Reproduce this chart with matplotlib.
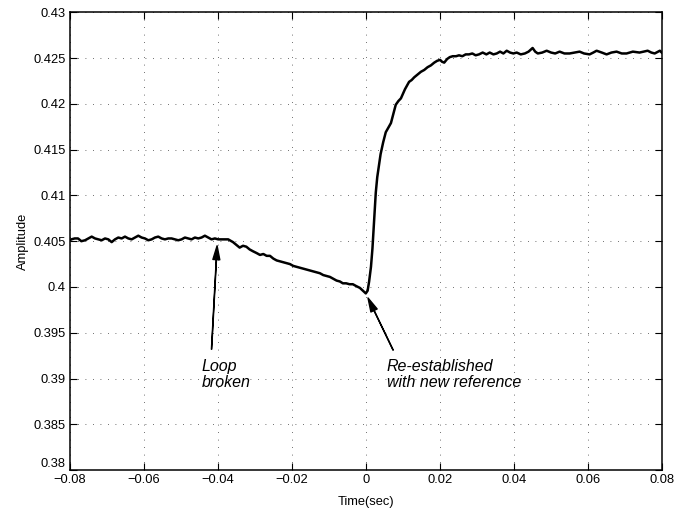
import numpy as np
import matplotlib
matplotlib.use('Agg')
import matplotlib.pyplot as plt

# Datos (tiempo en s, amplitud)
t_lazo = [-0.0800, -0.0796, -0.0787, -0.0778, -0.0769, -0.0759, -0.0750, -0.0741, -0.0732, -0.0723,
          -0.0714, -0.0705, -0.0696, -0.0687, -0.0678, -0.0669, -0.0660, -0.0651, -0.0642, -0.0633,
          -0.0624, -0.0615, -0.0606, -0.0597, -0.0588, -0.0579, -0.0570, -0.0561, -0.0552, -0.0543,
          -0.0534, -0.0525, -0.0516, -0.0507, -0.0498, -0.0489, -0.0480, -0.0471, -0.0462, -0.0453,
          -0.0444, -0.0435, -0.0426, -0.0417, -0.0408, -0.0399, -0.0390, -0.0381, -0.0372]
a_lazo = [0.4051, 0.4052, 0.4053, 0.4053, 0.4050, 0.4051, 0.4053, 0.4055, 0.4053, 0.4052,
          0.4051, 0.4053, 0.4052, 0.4049, 0.4052, 0.4054, 0.4053, 0.4055, 0.4053, 0.4052,
          0.4054, 0.4056, 0.4054, 0.4053, 0.4051, 0.4052, 0.4054, 0.4055, 0.4053, 0.4052,
          0.4053, 0.4053, 0.4052, 0.4051, 0.4052, 0.4054, 0.4053, 0.4052, 0.4054, 0.4053,
          0.4054, 0.4056, 0.4054, 0.4052, 0.4053, 0.4052, 0.4052, 0.4052, 0.4052]

# Lazo abierto: deriva hacia abajo
t_deriva = [-0.0359, -0.0350, -0.0341, -0.0332, -0.0323, -0.0314, -0.0305, -0.0295, -0.0286, -0.0277,
            -0.0268, -0.0259, -0.0250, -0.0241, -0.0232, -0.0223, -0.0214, -0.0205, -0.0196, -0.0187,
            -0.0178, -0.0169, -0.0160, -0.0151, -0.0142, -0.0133, -0.0124, -0.0115, -0.0106, -0.0097,
            -0.0088, -0.0079, -0.0070, -0.0062, -0.0053, -0.0044, -0.0035, -0.0026, -0.0016, -0.0008,
            0.0000]
a_deriva = [0.4049, 0.4046, 0.4043, 0.4045, 0.4044, 0.4041, 0.4039, 0.4037, 0.4035, 0.4036,
            0.4034, 0.4034, 0.4031, 0.4029, 0.4028, 0.4027, 0.4026, 0.4025, 0.4023, 0.4022,
            0.4021, 0.4020, 0.4019, 0.4018, 0.4017, 0.4016, 0.4015, 0.4013, 0.4012, 0.4011,
            0.4009, 0.4007, 0.4006, 0.4004, 0.4004, 0.4003, 0.4003, 0.4001, 0.3999, 0.3996,
            0.3993]

# Subida con la nueva referencia
t_subida = [0.0005, 0.0009, 0.0014, 0.0018, 0.0021, 0.0024, 0.0027, 0.0031, 0.0036, 0.0040,
            0.0047, 0.0054, 0.0061, 0.0068, 0.0075, 0.0081, 0.0088, 0.0095, 0.0106, 0.0117,
            0.0124, 0.0131, 0.0140, 0.0149, 0.0158, 0.0167, 0.0176, 0.0185, 0.0193, 0.0201,
            0.0206, 0.0212, 0.0220, 0.0227, 0.0235]
a_subida = [0.3996, 0.4006, 0.4022, 0.4042, 0.4063, 0.4085, 0.4103, 0.4120, 0.4134, 0.4145,
            0.4158, 0.4169, 0.4174, 0.4179, 0.4190, 0.4199, 0.4203, 0.4206, 0.4216, 0.4224,
            0.4226, 0.4229, 0.4232, 0.4235, 0.4237, 0.4240, 0.4242, 0.4245, 0.4247, 0.4248,
            0.4246, 0.4245, 0.4249, 0.4251, 0.4252]

# Regimen final
t_final = [0.0244, 0.0252, 0.0261, 0.0270, 0.0279, 0.0288, 0.0297, 0.0306, 0.0316, 0.0326,
           0.0335, 0.0345, 0.0354, 0.0363, 0.0372, 0.0381, 0.0390, 0.0399, 0.0408, 0.0419,
           0.0430, 0.0440, 0.0451, 0.0458, 0.0465, 0.0477, 0.0489, 0.0501, 0.0512, 0.0524,
           0.0537, 0.0551, 0.0565, 0.0578, 0.0590, 0.0605, 0.0615, 0.0624, 0.0638, 0.0651,
           0.0664, 0.0678, 0.0692, 0.0705, 0.0722, 0.0740, 0.0751, 0.0762, 0.0772, 0.0781,
           0.0790, 0.0795, 0.0800]
a_final = [0.4252, 0.4253, 0.4252, 0.4254, 0.4254, 0.4255, 0.4253, 0.4254, 0.4256, 0.4254,
           0.4256, 0.4254, 0.4255, 0.4257, 0.4255, 0.4258, 0.4256, 0.4255, 0.4256, 0.4254,
           0.4255, 0.4257, 0.4261, 0.4257, 0.4255, 0.4256, 0.4258, 0.4256, 0.4255, 0.4257,
           0.4255, 0.4255, 0.4256, 0.4257, 0.4255, 0.4254, 0.4256, 0.4258, 0.4256, 0.4254,
           0.4256, 0.4257, 0.4255, 0.4255, 0.4257, 0.4256, 0.4257, 0.4258, 0.4256, 0.4255,
           0.4257, 0.4258, 0.4256]

t = np.array(t_lazo + t_deriva + t_subida + t_final)
amp = np.array(a_lazo + a_deriva + a_subida + a_final)

xticks = [-0.08, -0.06, -0.04, -0.02, 0, 0.02, 0.04, 0.06, 0.08]
xlabels = ['\u22120.08', '\u22120.06', '\u22120.04', '\u22120.02', '0', '0.02', '0.04', '0.06', '0.08']
yticks = [0.38, 0.385, 0.39, 0.395, 0.4, 0.405, 0.41, 0.415, 0.42, 0.425, 0.43]
ylabels = ['0.38', '0.385', '0.39', '0.395', '0.4', '0.405', '0.41', '0.415', '0.42', '0.425', '0.43']

plt.rcParams['font.family'] = ['Liberation Sans', 'DejaVu Sans']

fig = plt.figure(figsize=(6.85, 5.11), dpi=100)
ax = fig.add_axes([0.102, 0.080, 0.864, 0.896])

ax.plot(t, amp, color='k', lw=1.8)

ax.set_xlim(-0.08, 0.08)
ax.set_ylim(0.38, 0.43)
ax.set_xticks(xticks)
ax.set_xticklabels(xlabels)
ax.set_yticks(yticks)
ax.set_yticklabels(ylabels)
ax.tick_params(direction='in', length=5, width=0.8, labelsize=9.3,
               top=True, right=True, pad=3)
# como en MATLAB, la etiqueta 0.38 queda un poco por encima del eje
ax.get_yticklabels()[0].set_va('bottom')
ax.grid(True, color='0.25', linestyle=(0, (1, 8)), linewidth=0.6)
for s in ax.spines.values():
    s.set_linewidth(1.1)

ax.set_xlabel('Time(sec)', fontsize=9.3, labelpad=7)
ax.set_ylabel('Amplitude', fontsize=9.3, labelpad=3)

# Anotaciones con flechas
flecha = dict(facecolor='k', edgecolor='k', width=0.2, headwidth=5, headlength=10, shrink=0)
ax.annotate('', xy=(-0.0402, 0.4045), xytext=(-0.0417, 0.3932), arrowprops=flecha)
ax.annotate('', xy=(0.0006, 0.3988), xytext=(0.0074, 0.3931), arrowprops=flecha)
ax.text(-0.0443, 0.3921, 'Loop\nbroken', fontsize=11.5, style='italic',
        va='top', ha='left', linespacing=1.05)
ax.text(0.0056, 0.3921, 'Re-established\nwith new reference', fontsize=11.5, style='italic',
        va='top', ha='left', linespacing=1.05)

fig.savefig('out.png', dpi=100)
